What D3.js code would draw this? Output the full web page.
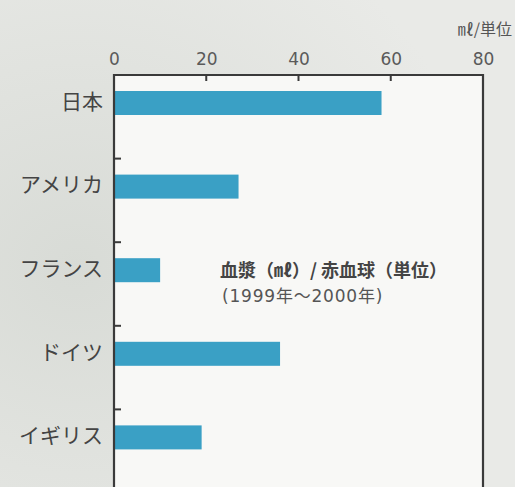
<!DOCTYPE html>
<html>
<head>
<meta charset="utf-8">
<script src="https://cdn.jsdelivr.net/npm/d3@7"></script>
<style>
  html, body { margin: 0; padding: 0; background: #e3e5e1; }
  svg { display: block; }
</style>
</head>
<body>
<div id="chart"></div>
<script>
'use strict';

// ── Data ───────────────────────────────────────────────────────────────────
const countries = ['日本', 'アメリカ', 'フランス', 'ドイツ', 'イギリス'];
const ratios    = [58, 27, 10, 36, 19];
const xTicks    = [0, 20, 40, 60, 80];

const W = 515, H = 487;
const plotL = 114, plotR = 483, plotT = 75, plotB = 493;

const svg = d3.select('#chart').append('svg')
  .attr('width', W).attr('height', H)
  .attr('font-family', "'Noto Sans CJK JP', 'Noto Sans', sans-serif");

// scanned-paper look: gray page, lighter plot area
const defs = svg.append('defs');
const grad = defs.append('radialGradient').attr('id', 'paper')
  .attr('cx', '0.15').attr('cy', '0.55').attr('r', '0.8');
grad.append('stop').attr('offset', '0%').attr('stop-color', '#d8dbd6');
grad.append('stop').attr('offset', '100%').attr('stop-color', '#e9eae7');
svg.append('rect').attr('width', W).attr('height', H).attr('fill', 'url(#paper)');

const x = d3.scaleLinear().domain([0, 80]).range([plotL, plotR]);
const y = d3.scaleBand().domain(countries).range([plotT, plotB]).padding(0);

svg.append('rect')
  .attr('x', plotL).attr('y', plotT)
  .attr('width', plotR - plotL).attr('height', plotB - plotT)
  .attr('fill', '#f8f8f6');

// bars
svg.append('g').selectAll('rect')
  .data(countries)
  .join('rect')
  .attr('x', x(0))
  .attr('y', d => y(d) + 16)
  .attr('width', (d, i) => x(ratios[i]) - x(0))
  .attr('height', 24)
  .attr('fill', '#3aa0c5');

// frame
svg.append('path')
  .attr('d', `M${plotL},${plotB}V${plotT}H${plotR}V${plotB}`)
  .attr('fill', 'none')
  .attr('stroke', '#3a3a3a')
  .attr('stroke-width', 2.2);

// top axis
const xAxis = svg.append('g')
  .attr('transform', `translate(0,${plotT})`)
  .call(d3.axisTop(x).tickValues(xTicks).tickSize(0).tickPadding(10));
xAxis.select('.domain').remove();
xAxis.selectAll('text')
  .attr('font-size', 17)
  .attr('fill', '#5a5a5a')
  .attr('font-family', "'DejaVu Sans', sans-serif");

svg.append('g').selectAll('line')
  .data(xTicks.slice(1, -1))
  .join('line')
  .attr('x1', d => x(d)).attr('x2', d => x(d))
  .attr('y1', plotT).attr('y2', plotT + 6)
  .attr('stroke', '#3a3a3a').attr('stroke-width', 2);

// left ticks on band boundaries
svg.append('g').selectAll('line')
  .data(countries.slice(1))
  .join('line')
  .attr('x1', plotL).attr('x2', plotL + 7)
  .attr('y1', d => y(d)).attr('y2', d => y(d))
  .attr('stroke', '#3a3a3a').attr('stroke-width', 2);

// category labels
svg.append('g').selectAll('text')
  .data(countries)
  .join('text')
  .attr('x', 103)
  .attr('y', d => y(d) + 28)
  .attr('text-anchor', 'end')
  .attr('dominant-baseline', 'middle')
  .attr('font-size', 21)
  .attr('fill', '#444')
  .text(d => d);

// unit
svg.append('text')
  .attr('x', 512).attr('y', 35)
  .attr('text-anchor', 'end')
  .attr('font-size', 16)
  .attr('fill', '#555')
  .text('㎖/単位');

// annotation
svg.append('text')
  .attr('x', 220).attr('y', 277)
  .attr('font-size', 18)
  .attr('font-weight', 700)
  .attr('fill', '#444')
  .text('血漿（㎖）/ 赤血球（単位）');

svg.append('text')
  .attr('x', 222).attr('y', 302)
  .attr('font-size', 17)
  .attr('letter-spacing', 0.8)
  .attr('fill', '#555')
  .attr('font-family', "'DejaVu Sans', 'Noto Sans CJK JP', sans-serif")
  .text('(1999年〜2000年)');
</script>
</body>
</html>
